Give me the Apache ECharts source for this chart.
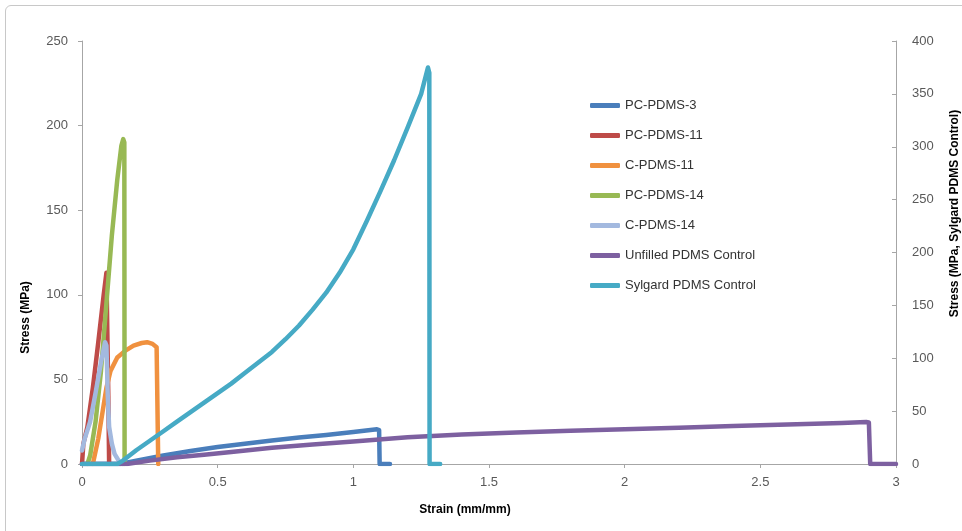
<!DOCTYPE html>
<html>
<head>
<meta charset="utf-8">
<title>Stress vs Strain</title>
<script src="https://cdn.jsdelivr.net/npm/echarts@6/dist/echarts.min.js"></script>
<style>
  html, body { margin: 0; padding: 0; background: #fff; overflow: hidden; width: 962px; height: 531px; }
  #frame {
    position: absolute; left: 5px; top: 5px; width: 1000px; height: 600px;
    border: 1px solid #c8c8c8; border-radius: 6px;
  }
  #chart { position: absolute; left: 0; top: 0; width: 962px; height: 531px; }
</style>
</head>
<body>
<div id="frame"></div>
<div id="chart"></div>
<script>
// [strain, stress] pairs
const pcPdms3 = [[0, 0], [0.14, 0], [0.2, 2], [0.3, 5], [0.4, 7.7], [0.5, 10], [0.6, 12], [0.7, 13.9], [0.8, 15.6], [0.9, 17.2], [1.0, 18.9], [1.087, 20.5], [1.095, 20], [1.097, 0], [1.135, 0]];
const pcPdms11 = [[0, 0], [0.005, 12], [0.02, 22], [0.04, 45], [0.06, 72], [0.08, 100], [0.09, 113], [0.093, 112], [0.097, 40], [0.1, 0]];
const cPdms11 = [[0.04, 0], [0.06, 15], [0.075, 30], [0.09, 45], [0.105, 55], [0.13, 63], [0.16, 67], [0.19, 70], [0.22, 71.5], [0.24, 72], [0.26, 71], [0.275, 69], [0.28, 68], [0.281, 0]];
const pcPdms14 = [[0.02, 0], [0.03, 5], [0.05, 25], [0.07, 55], [0.09, 95], [0.11, 135], [0.13, 168], [0.145, 188], [0.152, 192], [0.156, 190], [0.157, 0]];
const cPdms14 = [[0, 8], [0.01, 15], [0.03, 25], [0.05, 42], [0.07, 60], [0.085, 72], [0.09, 70], [0.095, 40], [0.1, 22], [0.11, 12], [0.12, 6], [0.135, 2], [0.15, 0]];
const unfilled = [[0, 0], [0.165, 0], [0.25, 2], [0.35, 4], [0.45, 5.5], [0.55, 7.1], [0.7, 9.6], [0.85, 11.5], [1.0, 13.3], [1.2, 15.8], [1.4, 17.5], [1.6, 18.6], [1.8, 19.6], [2.0, 20.5], [2.2, 21.4], [2.4, 22.4], [2.6, 23.4], [2.8, 24.3], [2.89, 24.8], [2.9, 24.5], [2.905, 0], [3.0, 0]];
// Sylgard is plotted against the right axis
const sylgard = [[0, 0], [0.13, 0], [0.15, 3], [0.2, 13], [0.25, 22], [0.3, 31], [0.35, 40], [0.4, 49], [0.45, 58], [0.5, 67], [0.55, 76], [0.6, 86], [0.65, 96], [0.7, 106], [0.75, 118], [0.8, 131], [0.85, 146], [0.9, 162], [0.95, 181], [1.0, 203], [1.05, 230], [1.1, 258], [1.15, 287], [1.2, 318], [1.25, 350], [1.275, 375], [1.28, 370], [1.281, 0], [1.32, 0]];

const seriesNames = ["PC-PDMS-3", "PC-PDMS-11", "C-PDMS-11", "PC-PDMS-14", "C-PDMS-14", "Unfilled PDMS Control", "Sylgard PDMS Control"];
const seriesData = [pcPdms3, pcPdms11, cPdms11, pcPdms14, cPdms14, unfilled, sylgard];
const colors = ["#4a7ebb", "#be4b48", "#f0913f", "#98b954", "#a3b9df", "#7d60a0", "#46aac5"];

const font = "'Liberation Sans', Arial, sans-serif";
const axisGray = "#a6a6a6";

const chart = echarts.init(document.getElementById("chart"));

const options = {
  animation: false,
  color: colors,
  textStyle: { fontFamily: font },
  grid: { left: 82, right: 66, top: 41, bottom: 67, outerBoundsMode: "none" },
  legend: {
    orient: "vertical",
    left: 590,
    top: 99,
    padding: 0,
    itemGap: 17,
    itemWidth: 30,
    itemHeight: 5,
    icon: "roundRect",
    textStyle: { fontSize: 13, color: "#333", fontFamily: font },
    data: seriesNames,
  },
  xAxis: {
    type: "value",
    min: 0,
    max: 3,
    interval: 0.5,
    name: "Strain (mm/mm)",
    nameLocation: "middle",
    nameGap: 40,
    nameTextStyle: { fontWeight: "bold", fontSize: 12, color: "#000", padding: [0, 48, 0, 0] },
    axisLine: { lineStyle: { color: axisGray } },
    axisTick: { length: 4, lineStyle: { color: axisGray } },
    axisLabel: { fontSize: 13, color: "#595959", margin: 12 },
    splitLine: { show: false },
  },
  yAxis: [
    {
      type: "value",
      min: 0,
      max: 250,
      interval: 50,
      name: "Stress (MPa)",
      nameLocation: "middle",
      nameGap: 50,
      nameRotate: 90,
      nameTextStyle: { fontWeight: "bold", fontSize: 12, color: "#000", padding: [0, 130, 0, 0] },
      axisLine: { show: true, lineStyle: { color: axisGray } },
      axisTick: { show: true, length: 4, lineStyle: { color: axisGray } },
      axisLabel: { fontSize: 13, color: "#595959", margin: 14 },
      splitLine: { show: false },
    },
    {
      type: "value",
      min: 0,
      max: 400,
      interval: 50,
      position: "right",
      name: "Stress (MPa, Sylgard PDMS Control)",
      nameLocation: "middle",
      nameGap: 53,
      nameRotate: 90,
      nameTextStyle: { fontWeight: "bold", fontSize: 12, color: "#000", padding: [0, 0, 0, 78] },
      axisLine: { show: true, lineStyle: { color: axisGray } },
      axisTick: { show: true, inside: true, length: 4, lineStyle: { color: axisGray } },
      axisLabel: { fontSize: 13, color: "#595959", margin: 16 },
      splitLine: { show: false },
    },
  ],
  series: seriesData.map((d, i) => ({
    name: seriesNames[i],
    type: "line",
    yAxisIndex: i === 6 ? 1 : 0,
    data: d,
    showSymbol: false,
    symbol: "none",
    lineStyle: { width: 4.5, cap: "round", join: "round" },
  })),
};

chart.setOption(options);

window.addEventListener("resize", () => {
  chart.resize();
});
</script>
</body>
</html>
